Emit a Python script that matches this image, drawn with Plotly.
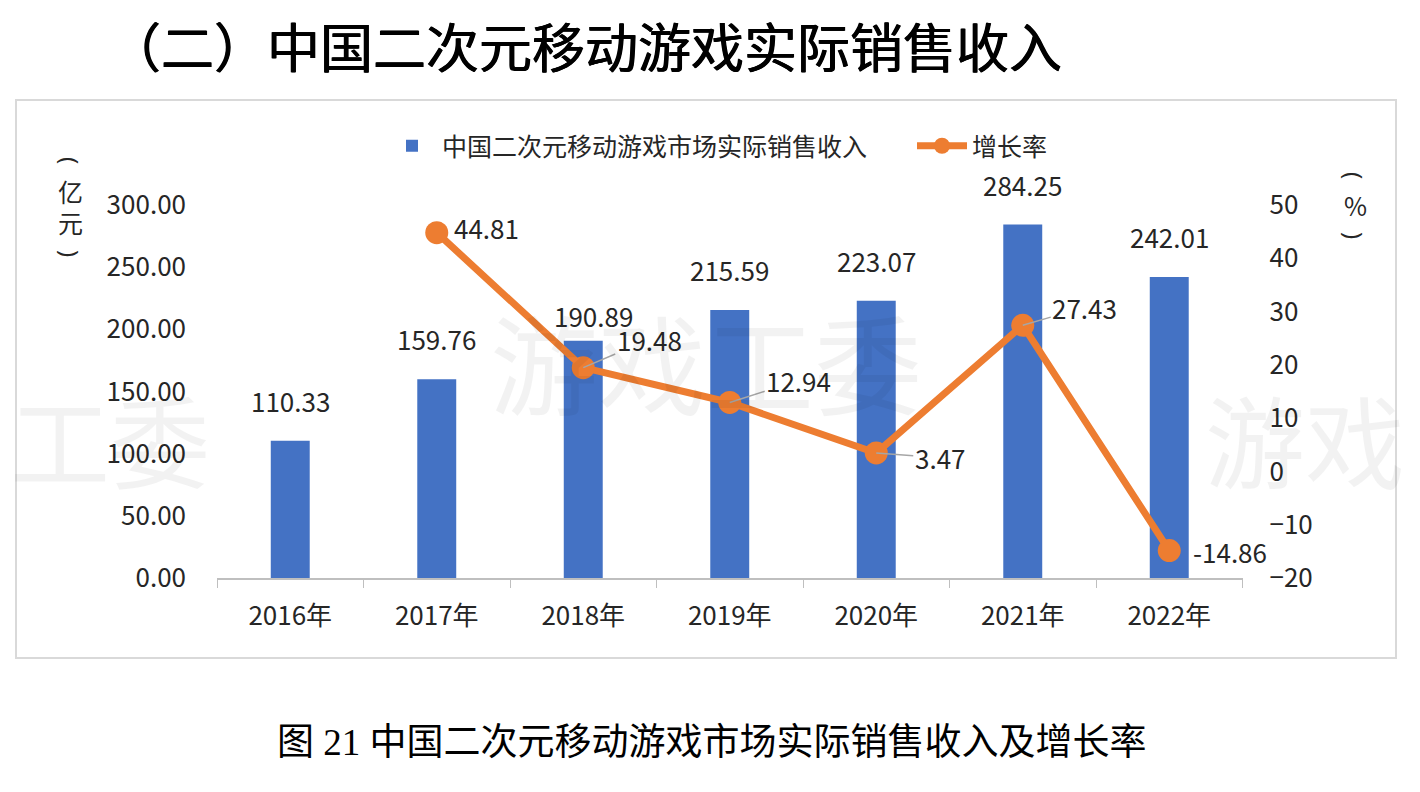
import plotly.graph_objects as go

# ---- data ----
years = ["2016年", "2017年", "2018年", "2019年", "2020年", "2021年", "2022年"]
revenue = [110.33, 159.76, 190.89, 215.59, 223.07, 284.25, 242.01]
growth = [None, 44.81, 19.48, 12.94, 3.47, 27.43, -14.86]
bar_name = "中国二次元移动游戏市场实际销售收入"
line_name = "增长率"
left_unit = ["(", "亿", "元", ")"]
right_unit = ["(", "%", ")"]
page_title = "（二）中国二次元移动游戏实际销售收入"
caption = "图 21 中国二次元移动游戏市场实际销售收入及增长率"

# ---- label styling offsets (pixels) ----
bar_label_shift = [(0, 20), (0, 20), (10, 5), (0, 20), (0, 20), (0, 20), (0, 20)]
line_label_off = [None, (50, -5, False), (66, -28, True), (69, -22, True),
                  (64, 5, True), (62, -18, True), (61, 1, False)]

W, H = 1420, 792
BLUE = "#4472C4"
ORANGE = "#ED7D31"
TXT = "#262626"
FONT = "Noto Sans CJK SC, Noto Sans, sans-serif"

x0, x1 = 217, 1242.5
ytop, ybot = 205, 578

fig = go.Figure()
fig.add_trace(go.Bar(
    x=years, y=revenue, name=bar_name, marker_color=BLUE,
    legend="legend", yaxis="y", cliponaxis=False,
))
fig.add_trace(go.Scatter(
    x=years, y=growth, name=line_name, yaxis="y2", mode="lines+markers",
    line=dict(color=ORANGE, width=7), marker=dict(color=ORANGE, size=23),
    legend="legend2", connectgaps=False, cliponaxis=False,
))

ann = []
for i, (yr, v) in enumerate(zip(years, revenue)):
    dx, dy = bar_label_shift[i]
    ann.append(dict(x=yr, y=v, xref="x", yref="y", text=f"{v:.2f}", showarrow=False,
                    yanchor="bottom", xshift=dx, yshift=dy,
                    font=dict(size=26, color=TXT, family=FONT)))
for i, (yr, g) in enumerate(zip(years, growth)):
    if g is None:
        continue
    ax, ay, lead = line_label_off[i]
    ann.append(dict(x=yr, y=g, xref="x", yref="y2", text=f"{g:.2f}", showarrow=True,
                    ax=ax, ay=ay, arrowhead=0, arrowwidth=1.5, standoff=0,
                    arrowcolor="#A6A6A6" if lead else "rgba(0,0,0,0)",
                    font=dict(size=26, color=TXT, family=FONT)))

# axis titles (vertical, one character per line; parentheses turned sideways)
def unit_ann(x, y, ch):
    paren = ch in "()"
    return dict(x=x / W, y=1 - y / H, xref="paper", yref="paper",
                text=ch, showarrow=False, xanchor="center", yanchor="middle",
                textangle=90 if paren else 0,
                font=dict(size=24 if paren else 25, color=TXT,
                          family="Noto Sans, sans-serif" if paren else FONT))

for k, ch in enumerate(left_unit):
    ann.append(unit_ann(70, 160 + 31 * k, ch))
for k, ch in enumerate(right_unit):
    ann.append(unit_ann(1355, 175 + 30 * k, ch))

# page title and caption
ann.append(dict(x=106 / W, y=1 - 45 / H, xref="paper", yref="paper", xanchor="left",
                yanchor="middle", text=page_title, showarrow=False,
                font=dict(size=53, color="#000000", family=FONT, weight="normal",
                          shadow="0.5px 0 0 #000, -0.5px 0 0 #000")))
ann.append(dict(x=712 / W, y=1 - 742 / H, xref="paper", yref="paper",
                xanchor="center", yanchor="middle", text=caption, showarrow=False,
                font=dict(size=37, color="#000000",
                          family="Liberation Serif, Noto Sans CJK SC, serif")))

# faint watermark
wm = dict(color="rgba(0,0,0,0.05)", family=FONT)
ann.append(dict(x=110 / W, y=1 - 437 / H, xref="paper", yref="paper", text="工委",
                xanchor="center", yanchor="middle", showarrow=False, font=dict(size=100, **wm)))
ann.append(dict(x=706 / W, y=1 - 360 / H, xref="paper", yref="paper", text="游戏工委",
                xanchor="center", yanchor="middle", showarrow=False, font=dict(size=108, **wm)))
ann.append(dict(x=1305 / W, y=1 - 437 / H, xref="paper", yref="paper", text="游戏",
                xanchor="center", yanchor="middle", showarrow=False, font=dict(size=100, **wm)))

fig.update_layout(
    template="none",
    width=W, height=H,
    margin=dict(l=0, r=0, t=0, b=0, pad=0),
    paper_bgcolor="white", plot_bgcolor="white",
    font=dict(family=FONT, color=TXT, size=25),
    bargap=0.734,
    xaxis=dict(domain=[x0 / W, x1 / W], type="category", range=[-0.5, len(years) - 0.5],
               autorange=False, showline=True, automargin=False,
               linecolor="#BFBFBF", linewidth=1.5, ticks="outside", tickson="boundaries",
               ticklen=8, tickcolor="#BFBFBF", tickfont=dict(size=26, color=TXT),
               ticklabelstandoff=14, showgrid=False, zeroline=False, fixedrange=True),
    yaxis=dict(domain=[1 - ybot / H, 1 - ytop / H], range=[0, 300], dtick=50, automargin=False,
               tickformat=".2f", showgrid=False, zeroline=False, showline=False,
               ticks="", ticklabelstandoff=30, tickfont=dict(size=26, color=TXT)),
    yaxis2=dict(overlaying="y", side="right", range=[-20, 50], dtick=10, automargin=False,
                showgrid=False, zeroline=False, showline=False, ticks="",
                ticklabelstandoff=26, tickfont=dict(size=26, color=TXT)),
    legend=dict(orientation="h", x=382 / W, y=1 - 146 / H, xanchor="left", yanchor="middle",
                font=dict(size=25, color=TXT), itemwidth=50, bgcolor="rgba(0,0,0,0)"),
    legend2=dict(orientation="h", x=912 / W, y=1 - 146 / H, xanchor="left", yanchor="middle",
                 font=dict(size=25, color=TXT), itemwidth=50, bgcolor="rgba(0,0,0,0)"),
    annotations=ann,
    shapes=[dict(type="rect", xref="paper", yref="paper",
                 x0=16 / W, x1=1396 / W, y0=1 - 658 / H, y1=1 - 100 / H,
                 line=dict(color="#D9D9D9", width=2), layer="below")],
    showlegend=True,
)

fig.write_html("out.html")
